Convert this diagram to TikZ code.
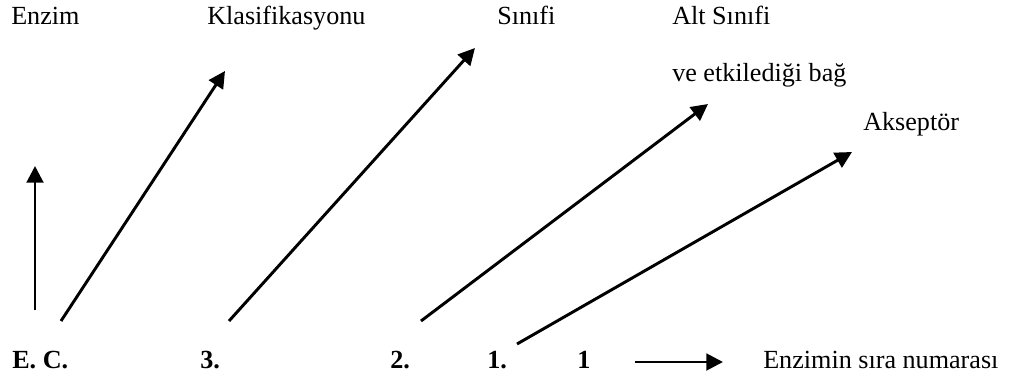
\documentclass[tikz,border=0pt]{standalone}
\usepackage{fontspec}
\setmainfont{Liberation Serif}
\usepackage{tikz}
\usetikzlibrary{arrows.meta}

\begin{document}
\begin{tikzpicture}[x=0.75pt, y=-0.75pt,
    lbl/.style={anchor=base west, inner sep=0pt, font=\fontsize{19.6}{23}\selectfont},
    code/.style={lbl, font=\fontsize{19.6}{23}\selectfont\bfseries},
    pointer/.style={-{Triangle[length=12.5pt, width=12.5pt]}, line width=2.2pt}]
  \useasboundingbox (0,0) rectangle (1009,378);
  % Top labels
  \node[lbl] (enzim) at (11,25) {Enzim};
  \node[lbl] (klas) at (207,25) {Klasifikasyonu};
  \node[lbl] (sinif) at (497,25) {Sınıfi};
  \node[lbl] (alt) at (672,25) {Alt Sınıfi};
  \node[lbl] (bag) at (672,82) {ve etkilediği bağ};
  \node[lbl] (akseptor) at (863,130) {Akseptör};
  % Bottom row: the code
  \node[code] (ec) at (12,368) {E. C.};
  \node[code] (n3) at (200,368) {3.};
  \node[code] (n2) at (390,368) {2.};
  \node[code] (n1) at (487,368) {1.};
  \node[code] (sira) at (577,368) {1};
  \node[lbl] (siraad) at (763,368) {Enzimin sıra numarası};
  % Arrow ends
  \coordinate (ec-s) at (35,310);
  \coordinate (ec-t) at (35,166);
  \coordinate (klas-s) at (61,321);
  \coordinate (klas-t) at (225,71);
  \coordinate (sinif-s) at (229,321);
  \coordinate (sinif-t) at (475,48);
  \coordinate (alt-s) at (421,321);
  \coordinate (alt-t) at (708,104);
  \coordinate (aks-s) at (517,344);
  \coordinate (aks-t) at (852,152);
  \coordinate (sira-s) at (635,362);
  \coordinate (sira-t) at (723,362);
  % Arrows
  \draw[pointer] (ec-s) -- (ec-t);
  \draw[pointer] (klas-s) -- (klas-t);
  \draw[pointer] (sinif-s) -- (sinif-t);
  \draw[pointer] (alt-s) -- (alt-t);
  \draw[pointer] (aks-s) -- (aks-t);
  \draw[pointer] (sira-s) -- (sira-t);
\end{tikzpicture}
\end{document}
